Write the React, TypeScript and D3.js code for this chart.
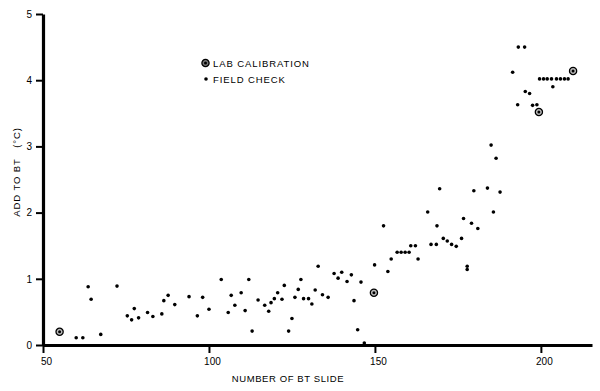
import React, { useEffect, useRef } from "react";
import * as d3 from "d3";

// field check readings (slide number, correction °C)
const fieldX = [60, 62, 63.6, 64.5, 67.4, 72.3, 75.4, 76.7, 77.5, 78.8, 81.5, 83.1, 85.8, 86.4, 87.7, 89.7, 94, 96.5, 98.1, 100,
  103.7, 105.8, 106.7, 107.8, 109.7, 110.9, 112, 113, 114.8, 116.8, 118, 118.7, 119.7, 120.7, 122, 122.7, 124, 125, 125.9, 126.9,
  127.7, 128.5, 130, 131, 132, 132.9, 134.2, 135.9, 137.7, 138.9, 140, 141.6, 142.9, 143.7, 144.8, 145.8, 146.8, 149.9, 152.6, 153.9,
  154.9, 156.7, 157.9, 159.1, 160.3, 160.8, 162.2, 163, 165.9, 166.9, 168.5, 168.7, 169.5, 170.6, 171.8, 173.1, 174.5, 176.1, 176.7, 177.8,
  177.8, 179.1, 179.8, 181, 183.9, 185, 185.7, 186.5, 187.7, 191.5, 193, 193.2, 195.1, 195.3, 196.6, 197.5, 198.8,
  199.6, 200.8, 201.9, 203.2, 204.7, 205.9, 207.1, 208.2, 203.6];
const fieldY = [0.11, 0.11, 0.88, 0.69, 0.16, 0.89, 0.44, 0.38, 0.55, 0.41, 0.49, 0.43, 0.47, 0.67, 0.75, 0.61, 0.73, 0.44, 0.72, 0.54,
  0.99, 0.49, 0.75, 0.6, 0.79, 0.52, 0.99, 0.21, 0.68, 0.6, 0.51, 0.64, 0.7, 0.79, 0.69, 0.9, 0.21, 0.4, 0.72, 0.84,
  0.99, 0.7, 0.7, 0.62, 0.83, 1.19, 0.76, 0.72, 1.08, 1.01, 1.1, 0.96, 1.06, 0.67, 0.23, 0.95, 0.03, 1.21, 1.8, 1.11,
  1.3, 1.4, 1.4, 1.4, 1.4, 1.5, 1.5, 1.3, 2.01, 1.52, 1.52, 1.8, 2.36, 1.61, 1.57, 1.52, 1.49, 1.61, 1.91, 1.19,
  1.14, 1.84, 2.33, 1.76, 2.37, 3.02, 2.01, 2.82, 2.31, 4.12, 3.63, 4.5, 4.5, 3.83, 3.8, 3.62, 3.63,
  4.02, 4.02, 4.02, 4.02, 4.02, 4.02, 4.02, 4.02, 3.9];

// lab calibration readings
const labX = [55, 149.7, 199.4, 209.7];
const labY = [0.2, 0.79, 3.52, 4.14];

const xTicks = [50, 100, 150, 200];
const yTicks = [0, 1, 2, 3, 4, 5];

const font = "'Liberation Sans', Arial, sans-serif";

function App() {
  const ref = useRef<SVGSVGElement>(null);

  useEffect(() => {
    const svg = d3.select(ref.current);
    svg.selectAll("*").remove();

    const x = d3.scaleLinear().domain([50, 215.4]).range([43, 592]);
    const y = d3.scaleLinear().domain([0, 5]).range([345, 14]);

    // axes
    const xAxis = svg.append("g").attr("transform", "translate(0,345)")
      .call(d3.axisBottom(x).tickValues(xTicks).tickFormat(d3.format("d")).tickSize(8).tickSizeOuter(0).tickPadding(5));
    xAxis.select(".domain").attr("stroke-width", 3.2);
    xAxis.selectAll(".tick line").attr("stroke-width", 2);
    xAxis.selectAll(".tick text").attr("font-family", font).attr("font-size", 10).attr("dx", 3);

    const yAxis = svg.append("g").attr("transform", "translate(43,0)")
      .call(d3.axisLeft(y).tickValues(yTicks).tickFormat(d3.format("d")).tickSize(7).tickSizeOuter(0).tickPadding(4));
    yAxis.select(".domain").attr("stroke-width", 3.2);
    yAxis.selectAll(".tick line").attr("stroke-width", 2);
    yAxis.selectAll(".tick text").attr("font-family", font).attr("font-size", 10);

    // field check dots
    svg.append("g").selectAll("circle")
      .data(fieldX)
      .enter()
      .append("circle")
      .attr("cx", (d) => x(d))
      .attr("cy", (d, i) => y(fieldY[i]))
      .attr("r", 1.8)
      .attr("fill", "#000");

    // lab calibration markers
    const lab = svg.append("g").selectAll("g")
      .data(labX)
      .enter()
      .append("g")
      .attr("transform", (d, i) => `translate(${x(d)},${y(labY[i])})`);
    lab.append("circle").attr("r", 3.6).attr("fill", "#bbb").attr("stroke", "#000").attr("stroke-width", 1.3);
    lab.append("circle").attr("r", 1.5).attr("fill", "#000");

    // legend
    const leg = svg.append("g").attr("font-family", font).attr("font-size", 9.5).attr("letter-spacing", 0.9);
    const lg = leg.append("g").attr("transform", "translate(205.5,63)");
    lg.append("circle").attr("r", 3.6).attr("fill", "#777").attr("stroke", "#000").attr("stroke-width", 1.3);
    lg.append("circle").attr("r", 1.5).attr("fill", "#000");
    leg.append("text").attr("x", 213).attr("y", 66.5).text("LAB CALIBRATION");
    leg.append("circle").attr("cx", 206).attr("cy", 79).attr("r", 1.8).attr("fill", "#000");
    leg.append("text").attr("x", 213).attr("y", 82.5).text("FIELD CHECK");

    // axis titles
    svg.append("text").attr("x", 288).attr("y", 382).attr("text-anchor", "middle")
      .attr("font-family", font).attr("font-size", 9.5).attr("letter-spacing", 0.6).text("NUMBER OF BT SLIDE");
    svg.append("text").attr("transform", "translate(20,172) rotate(-90)").attr("text-anchor", "middle")
      .attr("font-family", font).attr("font-size", 9.5).attr("letter-spacing", 0.9)
      .style("white-space", "pre").text("ADD TO BT   (°C)");
  }, []);

  return (
    <svg ref={ref} width={600} height={391} style={{ display: "block", position: "absolute", left: 0, top: 0, background: "#fff" }} />
  );
}

export default App;
